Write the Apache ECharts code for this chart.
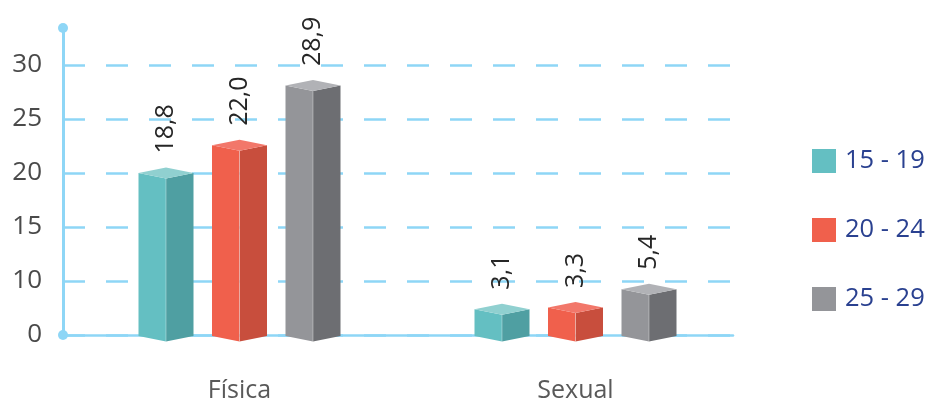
<!DOCTYPE html>
<html>
<head>
<meta charset="utf-8">
<script src="https://cdn.jsdelivr.net/npm/echarts@6/dist/echarts.min.js"></script>
<style>
  html, body { margin: 0; padding: 0; background: #ffffff; }
  #chart { width: 927px; height: 398px; }
</style>
</head>
<body>
<div id="chart"></div>
<script>
// Violence type by age group (%)
const categories = ['Física', 'Sexual'];
const ageGroups = ['15 - 19', '20 - 24', '25 - 29'];
const values1519 = [18.8, 3.1];
const values2024 = [22.0, 3.3];
const values2529 = [28.9, 5.4];
const tickLabels = ['0', '10', '15', '20', '25', '30'];

const FONT = 'Open Sans';
const LINE = '#8ed6f6';

// face colours of each box: front, side, top
const palettes = [
  { front: '#64bfc2', side: '#4f9fa2', top: '#90d0d0' },
  { front: '#f0604c', side: '#c84e3d', top: '#f2776a' },
  { front: '#949599', side: '#6d6e72', top: '#b1b2b6' }
];
const seriesValues = [values1519, values2024, values2529];
const groupOffsets = [-73.5, 0, 73.5]; // px from category centre
const HALF = 27.5;  // half width of a box
const DEPTH = 5.5;  // vertical half size of the top diamond

function fmt(v) { return v.toFixed(1).replace('.', ','); }

function makeRender(si) {
  const pal = palettes[si];
  return function (params, api) {
    const idx = api.value(0);
    const v = api.value(1);
    const top = api.coord([idx, v]);
    const base = api.coord([idx, 0]);
    const cx = top[0] + groupOffsets[si];
    const yt = top[1], yb = base[1];
    const d = DEPTH, w = HALF;
    return {
      type: 'group',
      children: [
        { type: 'polygon', shape: { points: [[cx - w, yt], [cx, yt + d], [cx, yb + d], [cx - w, yb]] },
          style: { fill: pal.front } },
        { type: 'polygon', shape: { points: [[cx, yt + d], [cx + w, yt], [cx + w, yb], [cx, yb + d]] },
          style: { fill: pal.side } },
        { type: 'polygon', shape: { points: [[cx, yt - d], [cx + w, yt], [cx, yt + d], [cx - w, yt]] },
          style: { fill: pal.top } },
        { type: 'line', shape: { x1: cx, y1: yt + d, x2: cx, y2: yb + d },
          style: { stroke: 'rgba(255,255,255,0.35)', lineWidth: 1 } },
        { type: 'text', x: cx, y: yt - d - 14, rotation: Math.PI / 2,
          style: { text: fmt(v), fill: '#262626', font: '25px "' + FONT + '"',
                   align: 'left', verticalAlign: 'middle' } }
      ]
    };
  };
}

const series = ageGroups.map(function (name, si) {
  return {
    name: name,
    type: 'custom',
    xAxisIndex: 1,
    yAxisIndex: 1,
    itemStyle: { color: palettes[si].front },
    encode: { x: 0, y: 1 },
    data: seriesValues[si].map(function (v, i) { return [i, v]; }),
    renderItem: makeRender(si)
  };
});

const chart = echarts.init(document.getElementById('chart'), null, { renderer: 'canvas' });
chart.setOption({
  animation: false,
  backgroundColor: '#ffffff',
  textStyle: { fontFamily: FONT },
  legend: {
    orient: 'vertical',
    left: 807,
    top: 143,
    itemWidth: 24,
    itemHeight: 24,
    itemGap: 43,
    icon: 'rect',
    data: ageGroups,
    textStyle: { fontFamily: FONT, fontSize: 25.5, color: '#2a4190', lineHeight: 24, padding: [0, 0, 0, 4] }
  },
  grid: [
    // gridlines and tick labels
    { left: 63, right: 194, top: 65, bottom: 63, outerBoundsMode: 'none' },
    // boxes and category labels
    { left: 71.5, right: 183.5, top: 76, bottom: 62, outerBoundsMode: 'none' },
    // vertical axis line with end dots
    { left: 63, right: 194, top: 28, bottom: 63, outerBoundsMode: 'none' }
  ],
  xAxis: [
    { gridIndex: 0, type: 'value', min: 0, max: 1,
      axisLine: { show: true, lineStyle: { color: LINE, width: 2.5 } },
      axisTick: { show: false }, axisLabel: { show: false }, splitLine: { show: false } },
    { gridIndex: 1, type: 'category', data: categories,
      axisLine: { show: false }, axisTick: { show: false }, splitLine: { show: false },
      axisLabel: { margin: 42, fontSize: 25, color: '#595959', fontFamily: FONT } },
    { gridIndex: 2, type: 'value', show: false }
  ],
  yAxis: [
    { gridIndex: 0, type: 'category', data: tickLabels, boundaryGap: false,
      axisLine: { show: false }, axisTick: { show: false },
      axisLabel: { interval: 0, margin: 21, fontSize: 26, color: '#4a4a4a', fontFamily: FONT },
      splitLine: { show: true, interval: 0, lineStyle: { color: LINE, width: 2.5, type: [22, 21] } } },
    { gridIndex: 1, type: 'value', min: 0, max: 30, show: false, splitLine: { show: false } },
    { gridIndex: 2, type: 'value', min: 0, max: 1,
      axisLine: { show: true, symbol: ['circle', 'circle'], symbolSize: [10, 10],
                  lineStyle: { color: LINE, width: 3 } },
      axisTick: { show: false }, axisLabel: { show: false }, splitLine: { show: false } }
  ],
  series: series
});
</script>
</body>
</html>
